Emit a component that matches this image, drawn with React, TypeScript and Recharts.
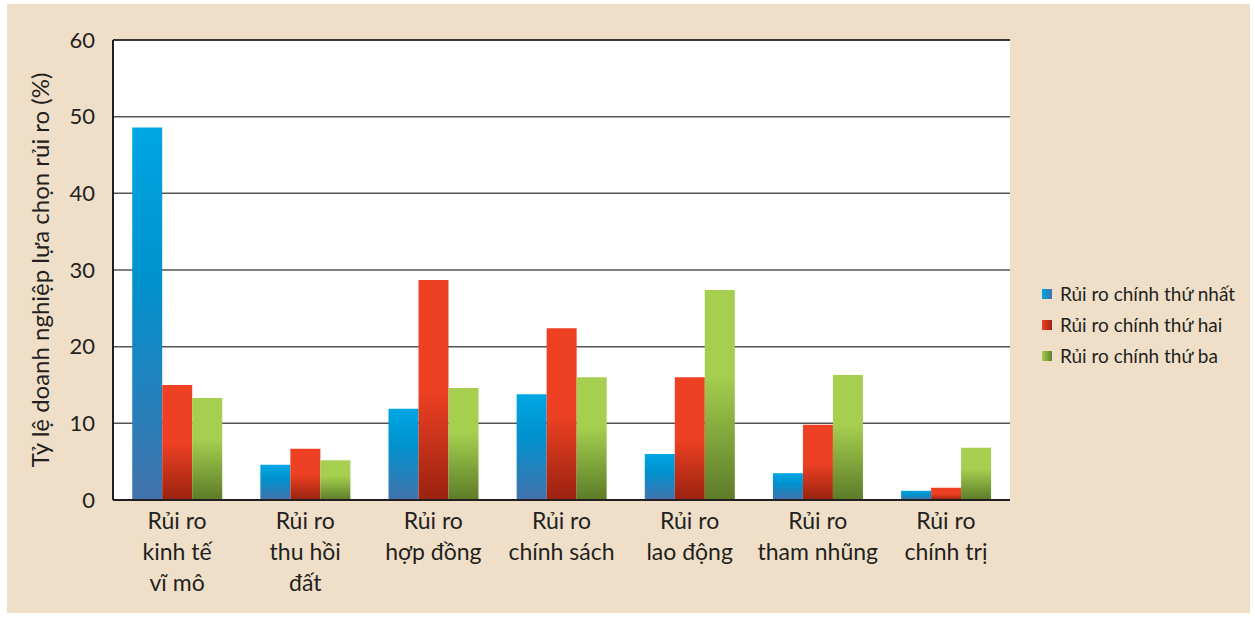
import React from "react";
import { BarChart, Bar, XAxis, YAxis, CartesianGrid, ReferenceLine } from "recharts";

const CATEGORIES = [
  ["Rủi ro", "kinh tế", "vĩ mô"],
  ["Rủi ro", "thu hồi", "đất"],
  ["Rủi ro", "hợp đồng"],
  ["Rủi ro", "chính sách"],
  ["Rủi ro", "lao động"],
  ["Rủi ro", "tham nhũng"],
  ["Rủi ro", "chính trị"],
];
const FIRST = [48.6, 4.6, 11.9, 13.8, 6.0, 3.5, 1.2];
const SECOND = [15.0, 6.7, 28.7, 22.4, 16.0, 9.8, 1.6];
const THIRD = [13.3, 5.2, 14.6, 16.0, 27.4, 16.3, 6.8];
const Y_TICKS = [0, 10, 20, 30, 40, 50, 60];
const SERIES = [
  { key: "first", name: "Rủi ro chính thứ nhất", grad: "gBlue", sw: "linear-gradient(90deg,#00A5E3,#3F74AE)" },
  { key: "second", name: "Rủi ro chính thứ hai", grad: "gRed", sw: "linear-gradient(90deg,#EE4123,#9C2410)" },
  { key: "third", name: "Rủi ro chính thứ ba", grad: "gGreen", sw: "linear-gradient(90deg,#A6CE4E,#5E7F2A)" },
];

const data = CATEGORIES.map((c, i) => ({
  id: String(i),
  first: FIRST[i],
  second: SECOND[i],
  third: THIRD[i],
}));

const FONT = "Lato, 'Open Sans', sans-serif";
const INK = "#231F20";

function CatTick(props: any) {
  const { x, y, payload } = props;
  const lines = CATEGORIES[Number(payload.value)] || [];
  return (
    <text x={x} y={y} textAnchor="middle" fill={INK} fontSize={23} fontFamily={FONT}>
      {lines.map((l, i) => (
        <tspan key={i} x={x} dy={i === 0 ? 21 : 31}>{l}</tspan>
      ))}
    </text>
  );
}

function LegendBox() {
  return (
    <div style={{ position: "absolute", left: 1042, top: 278, fontFamily: FONT, fontSize: 19, color: INK }}>
      {SERIES.map((s) => (
        <div key={s.key} style={{ display: "flex", alignItems: "center", height: 31 }}>
          <span style={{ width: 10, height: 10, background: s.sw, marginRight: 8, display: "inline-block" }} />
          <span>{s.name}</span>
        </div>
      ))}
    </div>
  );
}

export default function App() {
  return (
    <div style={{ position: "absolute", left: 0, top: 0, width: 1255, height: 618, background: "#ffffff" }}>
      <div style={{ position: "absolute", left: 7, top: 4, width: 1243, height: 609, background: "#F0DFC8" }} />
      <div style={{ position: "absolute", left: 0, top: 0 }}>
        <BarChart
          width={1255}
          height={618}
          data={data}
          margin={{ top: 40, right: 245, left: 33, bottom: 18 }}
          barCategoryGap="15%"
          barGap={0}
        >
          <defs>
            <linearGradient id="gBlue" x1="0" y1="0" x2="0" y2="1">
              <stop offset="0" stopColor="#00A6E4" />
              <stop offset="0.4" stopColor="#0092CE" />
              <stop offset="1" stopColor="#4372AC" />
            </linearGradient>
            <linearGradient id="gRed" x1="0" y1="0" x2="0" y2="1">
              <stop offset="0" stopColor="#EE4123" />
              <stop offset="0.5" stopColor="#EE4123" />
              <stop offset="1" stopColor="#9A2210" />
            </linearGradient>
            <linearGradient id="gGreen" x1="0" y1="0" x2="0" y2="1">
              <stop offset="0" stopColor="#A6CF4F" />
              <stop offset="0.4" stopColor="#A6CF4F" />
              <stop offset="1" stopColor="#5C7C28" />
            </linearGradient>
          </defs>
          <CartesianGrid yAxisId="l" vertical={false} stroke="#555" strokeWidth={1.5} fill="#ffffff" fillOpacity={1} />
          <XAxis
            dataKey="id"
            tick={<CatTick />}
            tickLine={false}
            axisLine={{ stroke: INK, strokeWidth: 2 }}
            height={100}
            interval={0}
          />
          <YAxis
            yAxisId="l"
            domain={[0, 60]}
            ticks={Y_TICKS}
            width={80}
            tickLine={false}
            tickSize={0}
            tickMargin={18}
            axisLine={{ stroke: INK, strokeWidth: 2 }}
            tick={{ fill: INK, fontSize: 22, fontFamily: FONT }}
            label={{
              value: "Tỷ lệ doanh nghiệp lựa chọn rủi ro (%)",
              angle: -90,
              position: "insideLeft",
              offset: 7,
              style: { textAnchor: "middle", fill: INK, fontSize: 24, fontFamily: FONT },
            }}
          />
          <YAxis yAxisId="r" orientation="right" width={0} tick={false} tickLine={false} axisLine={{ stroke: INK, strokeWidth: 1.5 }} />
          <ReferenceLine yAxisId="l" y={60} stroke={INK} strokeWidth={1.5} />
          {SERIES.map((s) => (
            <Bar key={s.key} yAxisId="l" dataKey={s.key} name={s.name} fill={`url(#${s.grad})`} isAnimationActive={false} />
          ))}
        </BarChart>
      </div>
      <LegendBox />
    </div>
  );
}
